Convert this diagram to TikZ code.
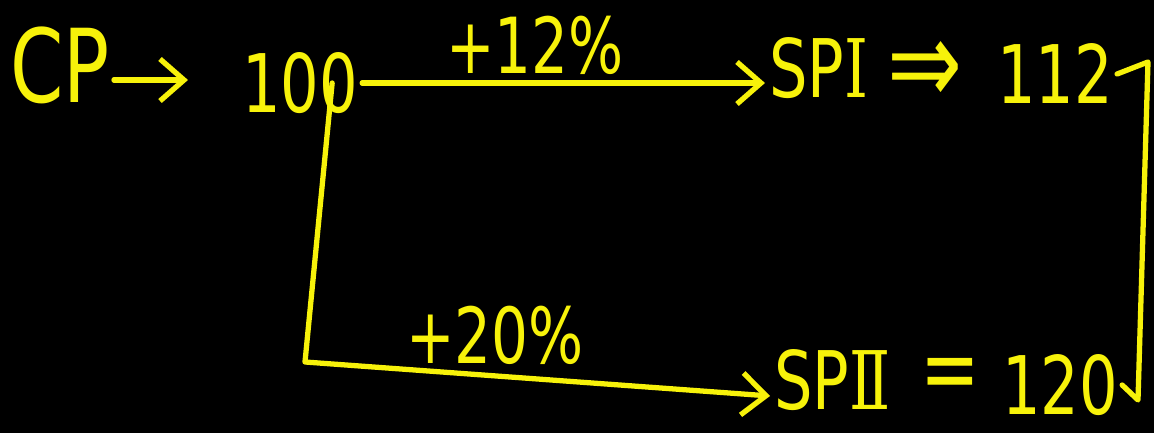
\documentclass[tikz,border=0pt]{standalone}
\usepackage{fontspec}
\setmainfont{DejaVu Sans}[FakeStretch=0.75]
\newfontfamily\romanfont{DejaVu Serif}[FakeStretch=0.75]
\usetikzlibrary{positioning,arrows.meta}
\definecolor{inkYellow}{HTML}{F7F20A}
\definecolor{boardBlack}{HTML}{000000}
\tikzset{
    hand/.style={text=inkYellow,inner sep=1pt,font=\fontsize{23}{26}\selectfont},
    small/.style={text=inkYellow,inner sep=1pt,font=\fontsize{22}{24}\selectfont},
    link/.style={draw=inkYellow,line width=1.5pt,line cap=round,line join=round},
    arrow/.style={link,-{Straight Barb[length=2.4mm,width=4.2mm,line width=1.5pt]}}
}
\begin{document}
\begin{tikzpicture}
    \fill[boardBlack] (0,0) rectangle (11.54,4.33);
    \useasboundingbox (0,0) rectangle (11.54,4.33);
    \node[hand,font=\fontsize{29}{32}\selectfont] (cp) at (0.6,3.68) {CP};
    \node[hand,anchor=west] (base) at (2.38,3.5) {100};
    \node[hand,anchor=west] (spone) at (7.65,3.65) {SP{\romanfont Ⅰ}};
    \node[hand,font=\fontsize{34}{36}\selectfont] (impl) at (9.25,3.6) {⇒};
    \node[hand,anchor=west] (high) at (9.93,3.59) {112};
    \node[hand,anchor=west] (sptwo) at (7.7,0.53) {SP{\romanfont Ⅱ}};
    \node[hand,font=\fontsize{27}{30}\selectfont] (eq) at (9.5,0.53) {=};
    \node[hand,anchor=west] (low) at (9.98,0.48) {120};
    \node[small] (up) at (5.35,3.88) {+12\%};
    \node[small] (down) at (4.95,0.98) {+20\%};
    \coordinate (right top) at (11.48,3.71);
    \coordinate (right low) at (11.38,0.33);
    \coordinate (left low) at (3.05,0.71);
    \draw[arrow,shorten >=5mm] ([yshift=-1.5mm]cp.east) -- ([yshift=-1.5mm]cp.east -| base.west);
    \draw[arrow] (base.east) -- (base.east -| spone.west);
    \draw[arrow] ([xshift=-3mm]base.east) -- (left low) -- ([yshift=-1.6mm]sptwo.west);
    \draw[link] (high.east) -- (right top) -- (right low) -- (low.east);
\end{tikzpicture}
\end{document}
